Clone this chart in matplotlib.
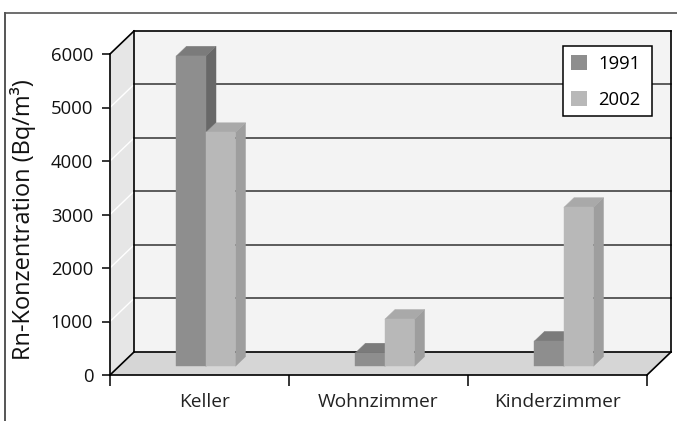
import matplotlib.pyplot as plt
from matplotlib.lines import Line2D
from matplotlib.patches import Patch, Polygon, Rectangle

plt.rcParams['font.family'] = ['Open Sans', 'DejaVu Sans']

categories = ['Keller', 'Wohnzimmer', 'Kinderzimmer']
years = ['1991', '2002']
values_1991 = [5800, 250, 470]
values_2002 = [4370, 880, 2970]
y_ticks = [0, 1000, 2000, 3000, 4000, 5000, 6000]

# fake 3d: depth 1 is the back wall, expressed in data units
DX = 24 / 179
DY = 430
BAR_FRONT = 0.38
BAR_BACK = 0.80
BAR_START = 0.32
BAR_W = 0.165

COL_1991 = ('#8e8e8e', '#7b7b7b', '#686868')
COL_2002 = ('#b8b8b8', '#a9a9a9', '#9e9e9e')


def pt(x, y, d):
    return (x + d * DX, y + d * DY)


def poly(ax, pts, color, z):
    ax.add_patch(Polygon(pts, closed=True, facecolor=color, edgecolor=color,
                         linewidth=0.3, clip_on=False, zorder=z))


def bar3d(ax, x, w, h, cols, z):
    front, top, side = cols
    poly(ax, [pt(x + w, 0, BAR_FRONT), pt(x + w, 0, BAR_BACK),
              pt(x + w, h, BAR_BACK), pt(x + w, h, BAR_FRONT)], side, z)
    poly(ax, [pt(x, h, BAR_FRONT), pt(x + w, h, BAR_FRONT),
              pt(x + w, h, BAR_BACK), pt(x, h, BAR_BACK)], top, z)
    poly(ax, [pt(x, 0, BAR_FRONT), pt(x + w, 0, BAR_FRONT),
              pt(x + w, h, BAR_FRONT), pt(x, h, BAR_FRONT)], front, z)


fig = plt.figure(figsize=(6.77, 4.21), dpi=100, facecolor='w')
ax = fig.add_axes([110 / 677, 46 / 421, 537 / 677, 321 / 421])
ax.patch.set_visible(False)
ax.set_xlim(0, 3)
ax.set_ylim(0, 6000)
y_max = y_ticks[-1]

# walls and floor
poly(ax, [pt(0, 0, 1), pt(3, 0, 1), pt(3, y_max, 1), pt(0, y_max, 1)], '#f3f3f3', 1)
poly(ax, [pt(0, 0, 0), pt(0, 0, 1), pt(0, y_max, 1), pt(0, y_max, 0)], '#e6e6e6', 1)
poly(ax, [pt(0, 0, 0), pt(3, 0, 0), pt(3, 0, 1), pt(0, 0, 1)], '#d6d6d6', 1)

for t in y_ticks[1:-1]:
    a, b, c = pt(0, t, 0), pt(0, t, 1), pt(3, t, 1)
    ax.plot([a[0], b[0]], [a[1], b[1]], color='w', lw=1, clip_on=False, zorder=2)
    ax.plot([b[0], c[0]], [b[1], c[1]], color='#333333', lw=1.1, clip_on=False, zorder=2)

edges = [
    (pt(0, y_max, 0), pt(0, y_max, 1)),
    (pt(0, y_max, 1), pt(3, y_max, 1)),
    (pt(3, y_max, 1), pt(3, 0, 1)),
    (pt(0, y_max, 1), pt(0, 0, 1)),
    (pt(0, 0, 1), pt(3, 0, 1)),
    (pt(0, 0, 0), pt(0, 0, 1)),
    (pt(3, 0, 0), pt(3, 0, 1)),
]
for s, e in edges:
    ax.plot([s[0], e[0]], [s[1], e[1]], color='k', lw=1.2, clip_on=False, zorder=3)

for i in range(len(categories)):
    x = i + BAR_START
    bar3d(ax, x, BAR_W, values_1991[i], COL_1991, 4 + i)
    bar3d(ax, x + BAR_W, BAR_W, values_2002[i], COL_2002, 4 + i)

# axes
for side in ['top', 'right']:
    ax.spines[side].set_visible(False)
for side in ['left', 'bottom']:
    ax.spines[side].set_linewidth(1.2)
    ax.spines[side].set_zorder(8)
ax.set_yticks(y_ticks)
ax.tick_params(axis='y', length=6, width=1.1, labelsize=13.3, pad=6, labelcolor='#111111')
ax.set_xticks([0, 1, 2, 3])
ax.set_xticklabels([])
ax.set_xticks([0.53, 1.5, 2.5], minor=True)
ax.set_xticklabels(categories, minor=True, fontsize=13.8, color='#222222')
ax.tick_params(axis='x', which='major', length=8, width=1.1)
ax.tick_params(axis='x', which='minor', length=0, pad=13)

fig.text(23 / 677, 1 - 220 / 421, 'Rn-Konzentration (Bq/m³)', rotation=90,
         ha='center', va='center', fontsize=17, color='#111111')

# legend box is wider than the entries, so draw it apart from the legend
fig.add_artist(Rectangle((563 / 677, 1 - 116 / 421), 89 / 677, 70 / 421,
                         transform=fig.transFigure, facecolor='w', edgecolor='k',
                         linewidth=1.1, zorder=9))
handles = [Patch(facecolor=COL_1991[0], edgecolor='none', label=years[0]),
           Patch(facecolor=COL_2002[0], edgecolor='none', label=years[1])]
leg = fig.legend(handles=handles, loc='upper left', prop={'size': 13.3},
                 bbox_to_anchor=(571 / 677, 1 - 55 / 421), bbox_transform=fig.transFigure,
                 frameon=False, borderaxespad=0, borderpad=0,
                 handlelength=0.87, handleheight=0.87, handletextpad=0.6,
                 labelspacing=0.95)
leg.set_zorder(10)

# outer frame, cropped on right and bottom
fig.add_artist(Line2D([5 / 677, 5 / 677], [0, 1 - 13 / 421], color='#555555', lw=1.4))
fig.add_artist(Line2D([5 / 677, 677 / 677], [1 - 13 / 421, 1 - 13 / 421], color='#555555', lw=1.2))

fig.savefig('out.png', dpi=100, facecolor='w')
plt.close()
